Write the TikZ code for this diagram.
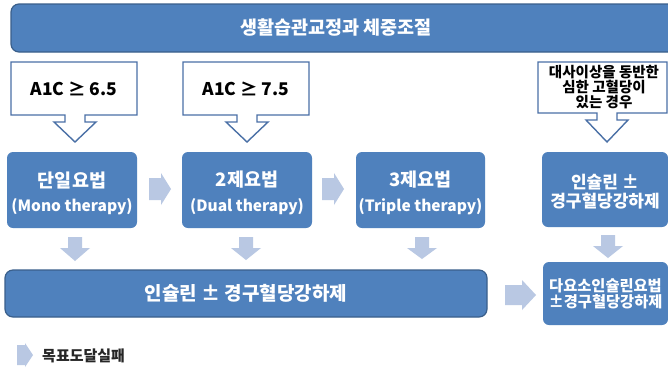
\documentclass[tikz,border=0pt]{standalone}
\usepackage{fontspec}
\setmainfont{Noto Sans CJK KR}
\definecolor{boxblue}{HTML}{4F81BD}
\definecolor{edgeblue}{HTML}{3A5F8B}
\definecolor{lightarrow}{HTML}{B9C8E3}
\definecolor{calloutedge}{HTML}{4A70A6}
\newcommand\fs[1]{\fontsize{#1}{#1}\selectfont}
\newcommand\mycallout[5]{\draw[calloutline] (#1,#3) -- (#2,#3) -- (#2,#4) -- (#5+10,#4) -- (#5+10,#4+7) -- (#5+21,#4+7) -- (#5,142) -- (#5-21,#4+7) -- (#5-10,#4+7) -- (#5-10,#4) -- (#1,#4) -- cycle;}
\newcommand\blkdown[3]{\fill[lightarrow] (#1-7,#2) -- (#1+7,#2) -- (#1+7,#2+11) -- (#1+15,#2+11) -- (#1,#3) -- (#1-15,#2+11) -- (#1-7,#2+11) -- cycle;}
\newcommand\blkright[6]{\fill[lightarrow] (#1,#3-#4) -- (#2-#6,#3-#4) -- (#2-#6,#3-#5) -- (#2,#3) -- (#2-#6,#3+#5) -- (#2-#6,#3+#4) -- (#1,#3+#4) -- cycle;}
\begin{document}
\begin{tikzpicture}[x=1pt,y=-1pt,
  bluebox/.style={fill=boxblue, rounded corners=6pt, inner sep=0pt},
  barbox/.style={fill=boxblue, draw=edgeblue, line width=1.2pt, rounded corners=8pt},
  calloutline/.style={draw=calloutedge, line width=1.4pt, fill=white},
  wtext/.style={text=white, font=\bfseries, align=center, inner sep=0pt},
  btext/.style={text=black, font=\bfseries, align=center, inner sep=0pt}]
\useasboundingbox (0,0) rectangle (668,368);
\fill[white] (0,0) rectangle (668,368);
% top bar
\draw[barbox] (11,4) rectangle (690,52);
\node[wtext, font=\bfseries\fs{18.5}] (title) at (336,28) {생활습관교정과 체중조절};
% callouts
\mycallout{11}{137}{62}{115}{75}
\node[btext, font=\bfseries\fs{17.5}] (c1) at (74,89) {A1C ≥ 6.5};
\mycallout{183}{309}{62}{115}{247}
\node[btext, font=\bfseries\fs{17.5}] (c2) at (246,89) {A1C ≥ 7.5};
\mycallout{538}{667}{62}{113}{607}
\node[btext, font=\bfseries\fs{14.5}] (c3a) at (604,72) {대사이상을 동반한};
\node[btext, font=\bfseries\fs{14.5}] (c3b) at (604,87) {심한 고혈당이};
\node[btext, font=\bfseries\fs{14.5}] (c3c) at (604,102) {있는 경우};
% second row
\node[bluebox, minimum width=130pt, minimum height=76pt] (b1) at (72,190) {};
\node[wtext, font=\bfseries\fs{18.5}] (b1a) at (72,180) {단일요법};
\node[wtext, font=\bfseries\fs{15.5}] (b1b) at (72,207) {(Mono therapy)};
\node[bluebox, minimum width=130pt, minimum height=76pt] (b2) at (247,190) {};
\node[wtext, font=\bfseries\fs{18.5}] (b2a) at (247,180) {2제요법};
\node[wtext, font=\bfseries\fs{15.5}] (b2b) at (247,207) {(Dual therapy)};
\node[bluebox, minimum width=129pt, minimum height=76pt] (b3) at (420.5,190) {};
\node[wtext, font=\bfseries\fs{18.5}] (b3a) at (420.5,180) {3제요법};
\node[wtext, font=\bfseries\fs{15.5}] (b3b) at (420.5,207) {(Triple therapy)};
\node[bluebox, minimum width=126pt, minimum height=75pt] (r1) at (605,189.5) {};
\node[wtext, font=\bfseries\fs{17}] (r1a) at (605,182) {인슐린 ±};
\node[wtext, font=\bfseries\fs{17}] (r1b) at (605,201) {경구혈당강하제};
% bottom
\draw[barbox] (5,270) rectangle (487,317);
\node[wtext, font=\bfseries\fs{19}] (bar) at (246,293) {인슐린 ± 경구혈당강하제};
\node[bluebox, minimum width=125pt, minimum height=63pt] (r2) at (605.5,293.5) {};
\node[wtext, font=\bfseries\fs{15.3}] (r2a) at (605.5,286) {다요소인슐린요법};
\node[wtext, font=\bfseries\fs{15.3}] (r2b) at (605.5,302) {±경구혈당강하제};
% light arrows
\blkright{149}{171}{189}{11}{16}{10}
\blkright{322}{344}{189}{11}{16}{10}
\blkright{505}{536}{295}{10}{15}{14}
\blkdown{75}{237}{261}
\blkdown{246}{237}{260}
\blkdown{422}{237}{259}
\blkdown{608}{235}{258}
% legend
\blkright{17}{33}{355}{10}{12}{8}
\node[btext, font=\bfseries\fs{15}, text=black!85, anchor=west] (legend) at (42,356) {목표도달실패};
\end{tikzpicture}
\end{document}
